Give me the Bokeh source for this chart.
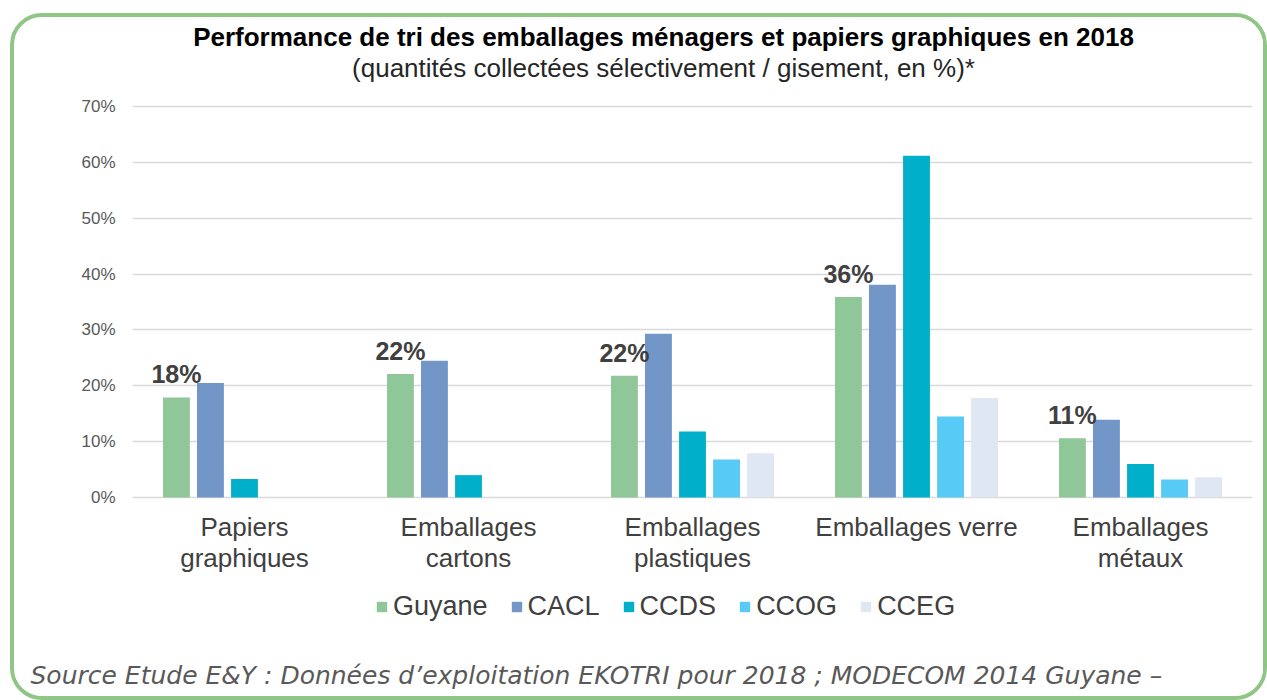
from bokeh.plotting import figure
from bokeh.models import (ColumnDataSource, FactorRange, Range1d, Legend, Label,
                          LegendItem, PrintfTickFormatter, FixedTicker, Title)
from bokeh.transform import dodge
from bokeh.core.properties import value
from bokeh.embed import file_html
from bokeh.resources import INLINE

# ---- data ----
categories = ["Papiers graphiques", "Emballages cartons", "Emballages plastiques",
              "Emballages verre", "Emballages métaux"]
category_line1 = ["Papiers", "Emballages", "Emballages", "Emballages verre", "Emballages"]
category_line2 = ["graphiques", "cartons", "plastiques", "", "métaux"]
series = ["Guyane", "CACL", "CCDS", "CCOG", "CCEG"]
guyane = [17.9, 22.1, 21.8, 35.9, 10.6]
cacl = [20.5, 24.5, 29.3, 38.1, 13.9]
ccds = [3.3, 4.0, 11.8, 61.2, 6.0]
ccog = [0.0, 0.0, 6.8, 14.5, 3.2]
cceg = [0.0, 0.0, 7.9, 17.8, 3.6]
guyane_labels = ["18%", "22%", "22%", "36%", "11%"]
colors = ["#8fc799", "#7396c8", "#00b0cb", "#57cbf6", "#dfe7f2"]
y_ticks = [0, 10, 20, 30, 40, 50, 60, 70]

title_text = "Performance de tri des emballages ménagers et papiers graphiques en 2018"
subtitle_text = "(quantités collectées sélectivement / gisement, en %)*"
source_text = "Source Etude E&Y : Données d\u2019exploitation EKOTRI pour 2018 ; MODECOM 2014 Guyane \u2013"

src = ColumnDataSource(dict(cat=categories, Guyane=guyane, CACL=cacl, CCDS=ccds,
                            CCOG=ccog, CCEG=cceg, lab=guyane_labels,
                            l1=category_line1, l2=category_line2))

p = figure(width=1257, height=687, x_range=FactorRange(*categories, range_padding=0),
           y_range=Range1d(-26.5, 85.93), output_backend="svg", toolbar_location=None,
           min_border_left=118, min_border_right=19, min_border_top=0, min_border_bottom=59,
           styles={"margin-left": "10px", "margin-top": "13px",
                   "border": "4px solid #8fc685", "border-radius": "32px",
                   "overflow": "hidden"})
p.title = None
p.outline_line_color = None
p.background_fill_color = "white"
p.border_fill_color = "white"

# bars
step = 0.152
renderers = []
for i, s in enumerate(series):
    r = p.vbar(x=dodge("cat", (i - 2) * step, range=p.x_range), top=s, width=0.12,
               source=src, fill_color=colors[i], line_color=None)
    renderers.append(r)

# data labels for Guyane
p.text(x=dodge("cat", -2 * step, range=p.x_range), y="Guyane", text="lab", source=src,
       text_align="center", text_baseline="alphabetic", y_offset=-23,
       text_font=value("Liberation Sans"), text_font_style="bold",
       text_font_size="25px", text_color="#404040")

# category labels (below the 0% line)
for field, yoff in (("l1", 30), ("l2", 61)):
    p.text(x="cat", y=0, text=field, source=src, y_offset=yoff,
           text_align="center", text_baseline="middle",
           text_font=value("Liberation Sans"), text_font_size="26px",
           text_color="#404040")

# axes
p.xaxis.visible = False
p.xgrid.grid_line_color = None
p.ygrid.grid_line_color = "#d9d9d9"
p.ygrid.grid_line_width = 1.5
p.yaxis.ticker = FixedTicker(ticks=y_ticks)
p.yaxis.formatter = PrintfTickFormatter(format="%d%%")
p.yaxis.axis_line_color = None
p.yaxis.major_tick_line_color = None
p.yaxis.minor_tick_line_color = None
p.yaxis.major_tick_out = 0
p.yaxis.major_label_standoff = 17
p.yaxis.major_label_text_font = "Liberation Sans"
p.yaxis.major_label_text_font_size = "17px"
p.yaxis.major_label_text_color = "#595959"

# title & subtitle (screen units, inside the plotting area)
p.add_layout(Label(x=531, y=609, x_units="screen", y_units="screen", text=title_text,
                   text_align="center", text_baseline="middle", text_font="Liberation Sans",
                   text_font_style="bold", text_font_size="26px", text_color="#000000"))
p.add_layout(Label(x=531, y=578, x_units="screen", y_units="screen", text=subtitle_text,
                   text_align="center", text_baseline="middle", text_font="Liberation Sans",
                   text_font_size="26px", text_color="#262626"))

# legend (inside frame, below the categories)
legend = Legend(items=[LegendItem(label=s, renderers=[r]) for s, r in zip(series, renderers)],
                orientation="horizontal", location=(243, 23),
                glyph_width=13, glyph_height=13, label_height=27, label_standoff=5,
                spacing=22, padding=0, margin=0, border_line_alpha=0,
                background_fill_alpha=0, label_text_font="Liberation Sans",
                label_text_font_size="27px", label_text_color="#404040")
p.add_layout(legend)

# source (below)
p.add_layout(Title(text=source_text, align="left", offset=-102, text_font="DejaVu Sans",
                   text_font_style="italic", text_font_size="25px", text_color="#595959",
                   standoff=26), "below")

open("out.html", "w").write(file_html(p, INLINE))
